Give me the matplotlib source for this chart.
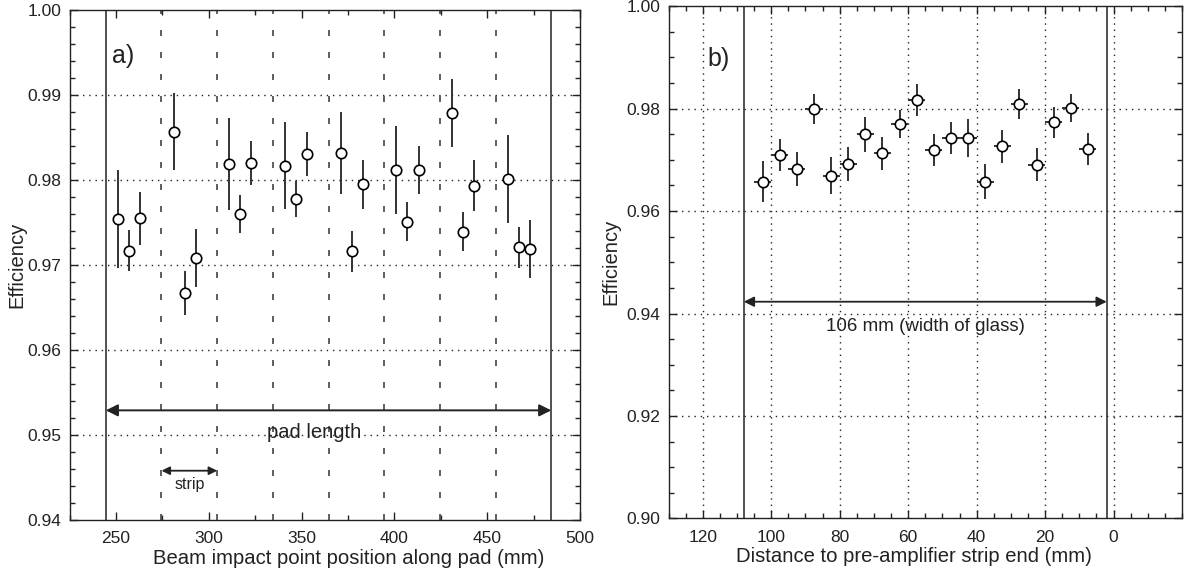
import matplotlib
matplotlib.use("Agg")
import matplotlib.pyplot as plt
from matplotlib.ticker import MultipleLocator, FormatStrFormatter

plt.rcParams['font.family'] = ['Liberation Sans', 'DejaVu Sans']

# ---------------- data: panel a ----------------
a_pos = [251, 257, 263, 281, 287, 293, 311, 317, 323, 341, 347, 353,
         371, 377, 383, 401, 407, 413, 431, 437, 443, 461, 467, 473]
a_eff = [0.9754, 0.9717, 0.9755, 0.9857, 0.9667, 0.9708, 0.9819, 0.9760,
         0.9820, 0.9817, 0.9778, 0.9831, 0.9832, 0.9716, 0.9795, 0.9812,
         0.9751, 0.9812, 0.9879, 0.9739, 0.9793, 0.9801, 0.9721, 0.9719]
a_err = [0.0058, 0.0024, 0.0031, 0.0045, 0.0026, 0.0034, 0.0054, 0.0022,
         0.0026, 0.0051, 0.0021, 0.0026, 0.0048, 0.0024, 0.0029, 0.0052,
         0.0023, 0.0028, 0.0040, 0.0023, 0.0030, 0.0052, 0.0024, 0.0034]
a_pad_edges = [244.5, 484.5]
a_strip_edges = [274.5, 304.5, 334.5, 364.5, 394.5, 424.5, 454.5]
a_xticks = [250, 300, 350, 400, 450, 500]
a_yticks = [0.94, 0.95, 0.96, 0.97, 0.98, 0.99, 1.00]

# ---------------- data: panel b ----------------
b_dist = [102.5, 97.5, 92.5, 87.5, 82.5, 77.5, 72.5, 67.5, 62.5, 57.5,
          52.5, 47.5, 42.5, 37.5, 32.5, 27.5, 22.5, 17.5, 12.5, 7.5]
b_eff = [0.9657, 0.9709, 0.9682, 0.9799, 0.9669, 0.9692, 0.9750, 0.9713,
         0.9770, 0.9817, 0.9719, 0.9742, 0.9742, 0.9657, 0.9726, 0.9809,
         0.9690, 0.9773, 0.9801, 0.9721]
b_err = [0.0040, 0.0031, 0.0033, 0.0030, 0.0036, 0.0033, 0.0034, 0.0032,
         0.0027, 0.0031, 0.0031, 0.0031, 0.0037, 0.0034, 0.0033, 0.0029,
         0.0032, 0.0030, 0.0028, 0.0031]
b_xerr = [2.5] * 20
b_glass_edges = [108, 2]
b_xticks = [120, 100, 80, 60, 40, 20, 0]
b_yticks = [0.90, 0.92, 0.94, 0.96, 0.98, 1.00]

INK = '#222222'
dotted = (0, (1, 3.5))

fig = plt.figure(figsize=(11.9, 5.79), dpi=100)
axa = fig.add_axes([0.0585, 0.1019, 0.4289, 0.8808])
axb = fig.add_axes([0.5618, 0.1045, 0.4315, 0.8851])


def style_axes(ax):
    for s in ax.spines.values():
        s.set_color(INK)
        s.set_linewidth(1.0)
    ax.tick_params(which='both', direction='in', top=True, right=True,
                   colors=INK, labelsize=12.5, labelcolor=INK)
    ax.tick_params(which='major', length=6, width=1.0, pad=6)
    ax.tick_params(which='minor', length=3.5, width=1.0)
    ax.tick_params(axis='x', which='major', pad=8)


# ---------- panel a ----------
axa.set_xlim(225, 500)
axa.set_ylim(0.94, 1.00)
axa.set_xticks(a_xticks)
axa.set_yticks(a_yticks)
axa.xaxis.set_minor_locator(MultipleLocator(25))
axa.yaxis.set_minor_locator(MultipleLocator(0.002))
axa.yaxis.set_major_formatter(FormatStrFormatter('%.2f'))
style_axes(axa)
for yv in a_yticks[1:-1]:
    axa.axhline(yv, color=INK, lw=1.0, ls=dotted, zorder=1)
for xv in a_strip_edges:
    axa.axvline(xv, color='#444444', lw=1.2, ls=(0, (3.6, 9.6)), zorder=1)
for xv in a_pad_edges:
    axa.axvline(xv, color='#333333', lw=1.2, zorder=1)

axa.errorbar(a_pos, a_eff, yerr=a_err, fmt='o', ms=7.5, mfc='white',
             mec='black', mew=1.2, ecolor='#333333', elinewidth=1.4,
             capsize=0, zorder=3)

axa.annotate('', xy=(a_pad_edges[0], 0.9529), xytext=(a_pad_edges[1], 0.9529),
             arrowprops=dict(arrowstyle='<|-|>', color=INK, lw=1.4,
                             shrinkA=0, shrinkB=0, mutation_scale=18), zorder=4)
axa.text(357, 0.9503, 'pad length', ha='center', va='center', fontsize=14.5,
         color=INK, zorder=4)
axa.annotate('', xy=(a_strip_edges[0], 0.9458), xytext=(a_strip_edges[1], 0.9458),
             arrowprops=dict(arrowstyle='<|-|>', color=INK, lw=1.3,
                             shrinkA=0, shrinkB=0, mutation_scale=12), zorder=4)
axa.text(290, 0.9442, 'strip', ha='center', va='center', fontsize=11.5,
         color=INK, zorder=4)
axa.text(248, 0.9946, 'a)', ha='left', va='center', fontsize=18, color=INK)
axa.set_xlabel('Beam impact point position along pad (mm)', fontsize=14.6,
               color=INK, labelpad=2)
axa.xaxis.label.set_x(0.546)
axa.set_ylabel('Efficiency', fontsize=14.6, color=INK)
axa.yaxis.set_label_coords(-0.085, 0.5)

# ---------- panel b ----------
axb.set_xlim(130, -20)
axb.set_ylim(0.90, 1.00)
axb.set_xticks(b_xticks)
axb.set_yticks(b_yticks)
axb.xaxis.set_minor_locator(MultipleLocator(5))
axb.yaxis.set_minor_locator(MultipleLocator(0.005))
axb.yaxis.set_major_formatter(FormatStrFormatter('%.2f'))
style_axes(axb)
for yv in b_yticks[1:-1]:
    axb.axhline(yv, color=INK, lw=1.0, ls=dotted, zorder=1)
for xv in b_xticks:
    axb.axvline(xv, color=INK, lw=1.0, ls=dotted, zorder=1)
for xv in b_glass_edges:
    axb.axvline(xv, color='#333333', lw=1.2, zorder=1)

axb.errorbar(b_dist, b_eff, yerr=b_err, xerr=b_xerr, fmt='o', ms=7.5,
             mfc='white', mec='black', mew=1.2, ecolor='#333333',
             elinewidth=1.4, capsize=0, zorder=3)

axb.annotate('', xy=(b_glass_edges[0], 0.9423), xytext=(b_glass_edges[1], 0.9423),
             arrowprops=dict(arrowstyle='<|-|>', color=INK, lw=1.3,
                             shrinkA=0, shrinkB=0, mutation_scale=15), zorder=4)
axb.text(55, 0.9374, '106 mm (width of glass)', ha='center', va='center',
         fontsize=13.5, color=INK, zorder=4)
axb.text(118.5, 0.9896, 'b)', ha='left', va='center', fontsize=18, color=INK)
axb.set_xlabel('Distance to pre-amplifier strip end (mm)', fontsize=14.6,
               color=INK, labelpad=2)
axb.xaxis.label.set_x(0.478)
axb.set_ylabel('Efficiency', fontsize=14.6, color=INK)
axb.yaxis.set_label_coords(-0.093, 0.5)

fig.savefig('out.png', dpi=100)
